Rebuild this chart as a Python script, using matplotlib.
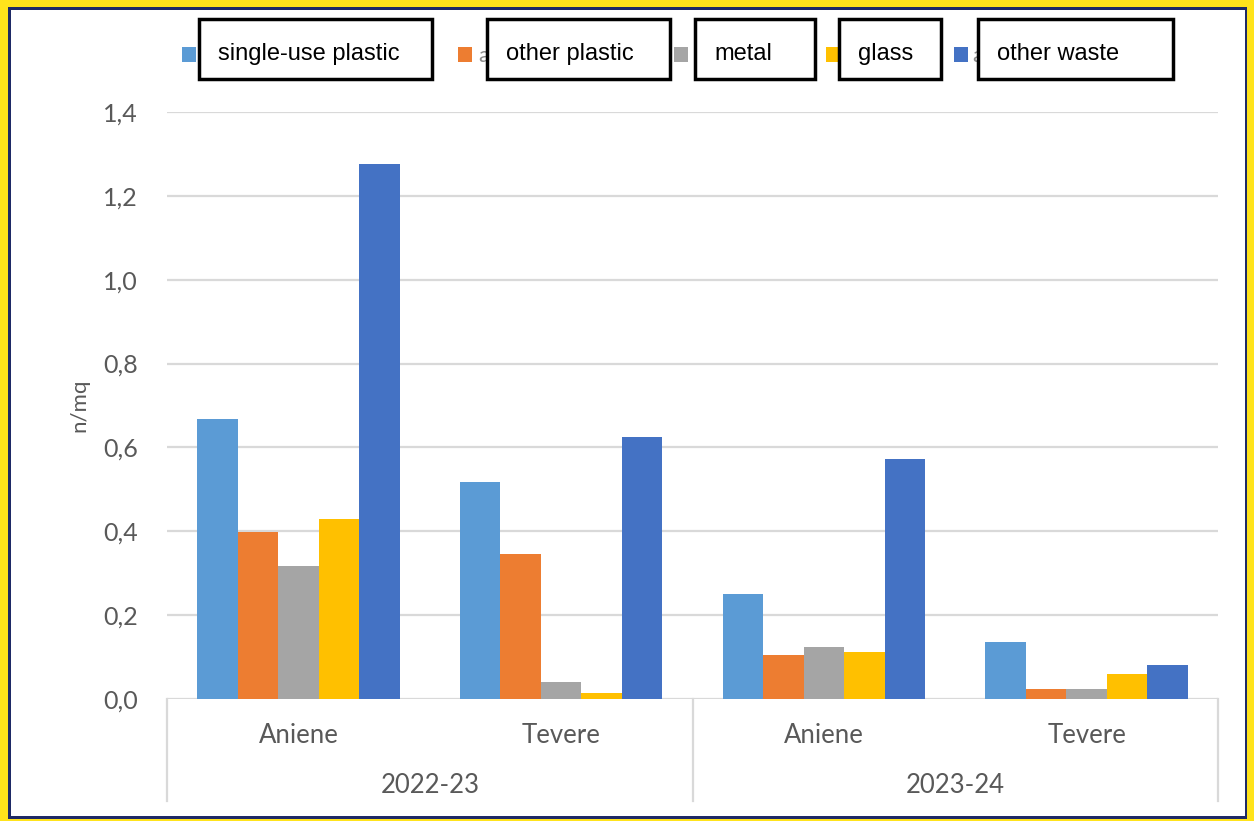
import matplotlib
matplotlib.use("Agg")
import matplotlib.pyplot as plt
from matplotlib.patches import Rectangle
import numpy as np

# ---------------- data ----------------
categories = ["Aniene", "Tevere", "Aniene", "Tevere"]
periods = ["2022-23", "2023-24"]
series_names = ["single-use plastic", "other plastic", "metal", "glass", "other waste"]
single_use = [0.668, 0.518, 0.250, 0.136]
other_plastic = [0.399, 0.346, 0.105, 0.024]
metal = [0.317, 0.041, 0.124, 0.024]
glass = [0.429, 0.014, 0.112, 0.060]
other_waste = [1.276, 0.625, 0.572, 0.081]
yticks = [0.0, 0.2, 0.4, 0.6, 0.8, 1.0, 1.2, 1.4]
ytick_labels = ["0,0", "0,2", "0,4", "0,6", "0,8", "1,0", "1,2", "1,4"]
ylabel = "n/mq"

colors = ["#5B9BD5", "#ED7D31", "#A5A5A5", "#FFC000", "#4472C4"]
values = [single_use, other_plastic, metal, glass, other_waste]

W, H = 1254, 821
fig = plt.figure(figsize=(W / 100, H / 100), dpi=100)
fig.patch.set_facecolor("#FFE31B")

def fx(x):
    return x / W

def fy(y):
    return 1 - y / H

# frame: navy line + white inner
fig.patches.append(Rectangle((fx(8), fy(819)), fx(1247) - fx(8), fy(7) - fy(819),
                             transform=fig.transFigure, facecolor="#1E2A66",
                             edgecolor="none", zorder=-2))
fig.patches.append(Rectangle((fx(11), fy(816)), fx(1245) - fx(11), fy(10) - fy(816),
                             transform=fig.transFigure, facecolor="white",
                             edgecolor="none", zorder=-1))

FONT = "Lato"
GRAY = "#595959"

ax = fig.add_axes([fx(167), fy(699), fx(1218) - fx(167), fy(112) - fy(699)])
ax.set_zorder(1)
ax.set_facecolor("none")
ax.set_xlim(-0.5, 3.5)
ax.set_ylim(0, 1.4)

x = np.arange(len(categories))
bw = 0.154
for i, (vals, c) in enumerate(zip(values, colors)):
    ax.bar(x + (i - 2) * bw, vals, width=bw, color=c, zorder=3, linewidth=0)

for t in yticks[1:]:
    ax.axhline(t, color="#D9D9D9", lw=1.6, zorder=1)
ax.axhline(0, color="#D9D9D9", lw=1.6, zorder=2)

for s in ax.spines.values():
    s.set_visible(False)
ax.set_xticks([])
ax.set_yticks(yticks)
ax.set_yticklabels(ytick_labels, fontsize=18, color=GRAY, family=FONT)
ax.tick_params(axis="y", length=0, pad=21)
ax.set_ylabel(ylabel, fontsize=16, color=GRAY, family=FONT, labelpad=10)

# multi-level category axis
tr = ax.get_xaxis_transform()
axh = 699 - 112
def ay(ypix):
    return -(ypix - 699) / axh

for xb in [-0.5, 1.5, 3.5]:
    ax.plot([xb, xb], [0, ay(801)], color="#D9D9D9", lw=1.6, transform=tr, clip_on=False)
for xi, name in zip(x, categories):
    ax.text(xi, ay(735), name, transform=tr, ha="center", va="center",
            fontsize=18.5, color=GRAY, family=FONT)
for k, p in enumerate(periods):
    ax.text(0.5 + 2 * k, ay(785), p, transform=tr, ha="center", va="center",
            fontsize=18.5, color=GRAY, family=FONT)

# legend markers
marker_cx = [189, 465, 681, 833, 961]
for cx, c in zip(marker_cx, colors):
    fig.patches.append(Rectangle((fx(cx - 7), fy(62)), fx(14), 15 / H,
                                 transform=fig.transFigure, facecolor=c,
                                 edgecolor="none", zorder=2))
# remnants of the original labels peeking out from under the boxes
for xa in [478, 972]:
    fig.text(fx(xa), fy(56), "a", fontsize=16, color="#8C8C8C", family=FONT,
             ha="left", va="center", zorder=2)

# overlay boxes with English labels
boxes = [(199, 432), (487, 670), (695, 815), (839, 941), (978, 1173)]
for (x0, x1), name in zip(boxes, series_names):
    fig.patches.append(Rectangle((fx(x0), fy(79)), fx(x1 - x0), 60 / H,
                                 transform=fig.transFigure, facecolor="white",
                                 edgecolor="black", linewidth=2.5, zorder=5))
    fig.text(fx(x0 + 19), fy(54), name, fontsize=17, color="black",
             family="Liberation Sans", ha="left", va="center", zorder=6)

fig.savefig("out.png", dpi=100, facecolor=fig.get_facecolor())
